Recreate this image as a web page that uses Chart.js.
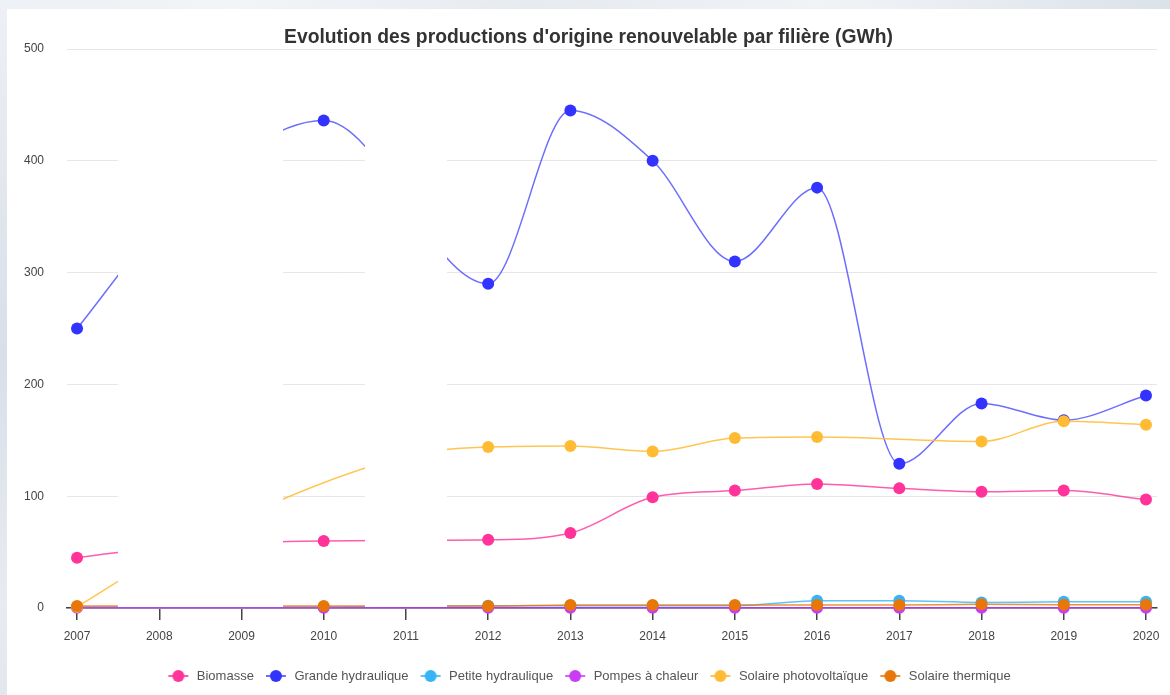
<!DOCTYPE html>
<html>
<head>
<meta charset="utf-8">
<script src="https://cdn.jsdelivr.net/npm/chart.js@4.4.1/dist/chart.umd.min.js"></script>
<style>
html,body{margin:0;padding:0;width:1170px;height:695px;overflow:hidden;}
body{background:
  linear-gradient(165deg, rgba(255,255,255,0.55) 0%, rgba(255,255,255,0) 35%, rgba(255,255,255,0.4) 60%, rgba(255,255,255,0) 85%),
  linear-gradient(90deg,#d8dfe8,#e8ecf1 20%,#dae1e9 45%,#edf0f4 70%,#d9e0e8);}
#panel{position:absolute;left:7px;top:9px;width:1163px;height:686px;background:#fff;}
canvas{display:block;}
</style>
</head>
<body>
<div id="panel"><canvas id="c" width="1163" height="686"></canvas></div>
<script>
// ---- data (GWh) ----
const years = [2007, 2008, 2009, 2010, 2011, 2012, 2013, 2014, 2015, 2016, 2017, 2018, 2019, 2020];
const biomasse          = [45, 54, null, 60, null, 61, 67, 99, 105, 111, 107, 104, 105, 97];
const grandeHydraulique = [250, 340, null, 436, null, 290, 445, 400, 310, 376, 129, 183, 168, 190];
const petiteHydraulique = [1, null, null, 1, null, 2, 2, 2, 2, 6.5, 6.5, 5, 5.5, 5.5];
const pompesChaleur     = [0.3, null, null, 0.3, null, 0.3, 0.3, 0.3, 0.3, 0.3, 0.3, 0.3, 0.3, 0.3];
const solairePV         = [1, 45, null, null, 136, 144, 145, 140, 152, 153, null, 149, 167, 164];
const solaireThermique  = [1.8, null, null, 1.8, null, 1.8, 2.7, 2.7, 2.7, 2.7, 2.7, 3.3, 3, 3];
const seriesNames = ['Biomasse', 'Grande hydraulique', 'Petite hydraulique', 'Pompes à chaleur', 'Solaire photovoltaïque', 'Solaire thermique'];
const yTicks = [0, 100, 200, 300, 400, 500];
const maskedYears = [2008, 2009, 2011];

const seriesValues = [biomasse, grandeHydraulique, petiteHydraulique, pompesChaleur, solairePV, solaireThermique];
const colors = ['#ff3399', '#3333ff', '#36b4f7', '#c83cf5', '#ffbb33', '#e8770a'];
const lineColors = ['rgba(255,51,153,0.8)', 'rgba(60,60,255,0.75)', 'rgba(54,180,247,0.8)', 'rgba(200,60,245,0.8)', 'rgba(255,187,51,0.85)', 'rgba(232,119,10,0.8)'];

const FONT = "'Liberation Sans', Arial, sans-serif";
Chart.defaults.font.family = FONT;

function makeMarker(color, lineColor) {
  const c = document.createElement('canvas');
  c.width = 24; c.height = 14;
  const g = c.getContext('2d');
  g.strokeStyle = lineColor; g.lineWidth = 2;
  g.beginPath(); g.moveTo(2, 7); g.lineTo(22, 7); g.stroke();
  g.fillStyle = color;
  g.beginPath(); g.arc(12, 7, 6, 0, Math.PI * 2); g.fill();
  return c;
}
const markers = colors.map((c, i) => makeMarker(c, lineColors[i]));

const datasets = seriesNames.map((name, i) => ({
  label: name,
  data: years.map((yr, j) => ({x: yr, y: seriesValues[i][j]})),
  borderColor: lineColors[i],
  backgroundColor: colors[i],
  pointBackgroundColor: colors[i],
  pointBorderWidth: 0,
  pointRadius: 6,
  pointHoverRadius: 6,
  borderWidth: 1.5,
  cubicInterpolationMode: 'monotone',
  tension: 0.4,
  spanGaps: true,
  clip: false,
  order: seriesNames.length - 1 - i
}));

// merge consecutive masked years into continuous bands
function maskBands() {
  const sorted = maskedYears.slice().sort((a, b) => a - b);
  const bands = [];
  sorted.forEach(yr => {
    const last = bands[bands.length - 1];
    if (last && yr - last[1] === 1) last[1] = yr; else bands.push([yr, yr]);
  });
  return bands;
}

const maskPlugin = {
  id: 'masks',
  afterDatasetsDraw(chart) {
    const {ctx, chartArea, scales: {x}} = chart;
    ctx.save();
    ctx.fillStyle = '#ffffff';
    maskBands().forEach(([a, b]) => {
      const l = Math.round(x.getPixelForValue(a - 0.5));
      const r = Math.round(x.getPixelForValue(b + 0.5));
      ctx.fillRect(l, chartArea.top + 1, r - l, chartArea.bottom - chartArea.top - 2);
    });
    ctx.restore();
  }
};

new Chart(document.getElementById('c'), {
  type: 'line',
  data: {datasets},
  plugins: [maskPlugin],
  options: {
    responsive: false,
    animation: false,
    layout: {padding: {left: 13, right: 13, top: 0, bottom: 2.5}},
    plugins: {
      title: {
        display: true,
        text: "Evolution des productions d'origine renouvelable par filière (GWh)",
        color: '#333',
        font: {size: 19.3, weight: 'bold', family: FONT, lineHeight: 1},
        padding: {top: 19, bottom: 1.7}
      },
      legend: {
        position: 'bottom',
        labels: {
          usePointStyle: true,
          pointStyleWidth: 24,
          padding: 10,
          color: '#555',
          font: {size: 13, family: FONT},
          generateLabels: (chart) => chart.data.datasets.map((ds, i) => ({
            text: ds.label,
            pointStyle: markers[i],
            fillStyle: colors[i],
            strokeStyle: colors[i],
            lineWidth: 0,
            fontColor: '#555',
            hidden: !chart.isDatasetVisible(i),
            datasetIndex: i
          }))
        }
      },
      tooltip: {enabled: false}
    },
    scales: {
      x: {
        type: 'linear',
        min: 2006.878,
        max: 2020.134,
        afterFit: (s) => { s.height = 51.5; },
        grid: {drawOnChartArea: false, drawTicks: true, tickLength: 12, color: '#444', lineWidth: 1.5},
        border: {color: '#444', width: 1.5},
        ticks: {
          stepSize: 1,
          includeBounds: false,
          autoSkip: false,
          maxRotation: 0,
          padding: 9,
          color: '#444',
          font: {size: 12, family: FONT},
          callback: (v) => years.includes(v) ? String(v) : ''
        }
      },
      y: {
        min: yTicks[0],
        max: yTicks[yTicks.length - 1],
        afterFit: (s) => { s.width = 47; },
        afterBuildTicks: (s) => { s.ticks = yTicks.map(v => ({value: v})); },
        grid: {color: '#e6e6e6', lineWidth: 1, drawTicks: false},
        border: {display: false},
        ticks: {padding: 23, color: '#444', font: {size: 12, family: FONT}}
      }
    }
  }
});
</script>
</body>
</html>
